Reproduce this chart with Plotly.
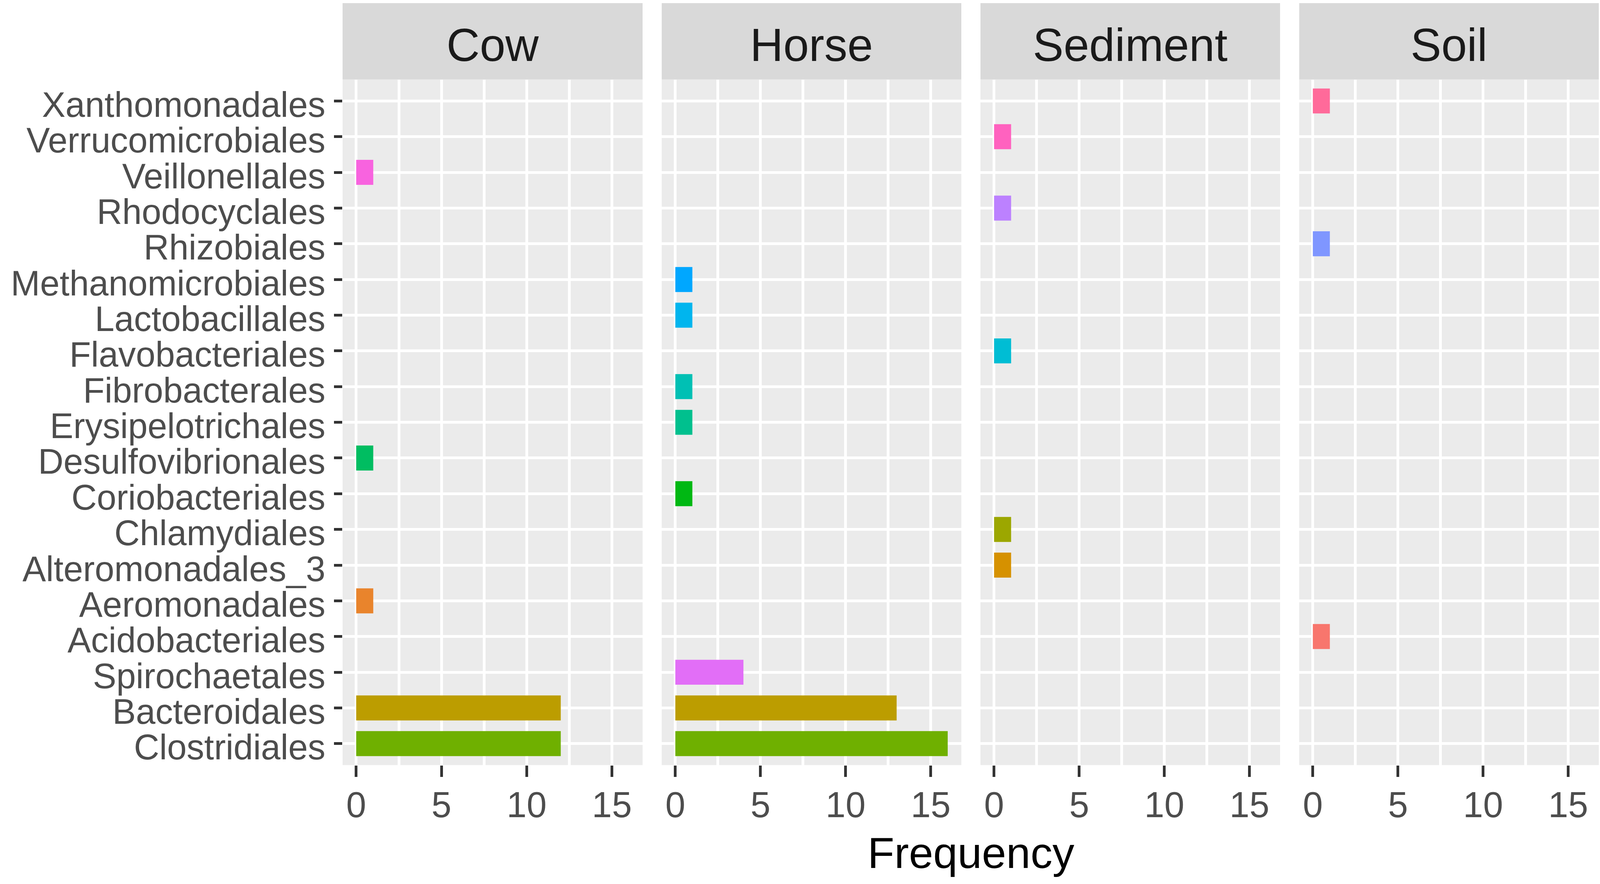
import math
import plotly.graph_objects as go

# ---------------- data ----------------
order_levels = [  # bottom -> top on the y axis
    "Clostridiales", "Bacteroidales", "Spirochaetales", "Acidobacteriales",
    "Aeromonadales", "Alteromonadales_3", "Chlamydiales", "Coriobacteriales",
    "Desulfovibrionales", "Erysipelotrichales", "Fibrobacterales",
    "Flavobacteriales", "Lactobacillales", "Methanomicrobiales", "Rhizobiales",
    "Rhodocyclales", "Veillonellales", "Verrucomicrobiales", "Xanthomonadales",
]
fill_levels = [  # order used for the fill colour scale
    "Acidobacteriales", "Aeromonadales", "Alteromonadales_3", "Bacteroidales",
    "Chlamydiales", "Clostridiales", "Coriobacteriales", "Desulfovibrionales",
    "Erysipelotrichales", "Fibrobacterales", "Flavobacteriales",
    "Lactobacillales", "Methanomicrobiales", "Rhizobiales", "Rhodocyclales",
    "Spirochaetales", "Veillonellales", "Verrucomicrobiales", "Xanthomonadales",
]
facets = ["Cow", "Horse", "Sediment", "Soil"]

cow_orders = ["Veillonellales", "Desulfovibrionales", "Aeromonadales", "Bacteroidales", "Clostridiales"]
cow_freq = [1, 1, 1, 12, 12]
horse_orders = ["Methanomicrobiales", "Lactobacillales", "Fibrobacterales", "Erysipelotrichales",
                "Coriobacteriales", "Spirochaetales", "Bacteroidales", "Clostridiales"]
horse_freq = [1, 1, 1, 1, 1, 4, 13, 16]
sediment_orders = ["Verrucomicrobiales", "Rhodocyclales", "Flavobacteriales", "Chlamydiales", "Alteromonadales_3"]
sediment_freq = [1, 1, 1, 1, 1]
soil_orders = ["Xanthomonadales", "Rhizobiales", "Acidobacteriales"]
soil_freq = [1, 1, 1]

x_ticks = [0, 5, 10, 15]
x_minor = [2.5, 7.5, 12.5]
x_title = "Frequency"


# ---------------- style helpers ----------------
def hcl_hex(h, c=100.0, l=65.0):
    # R's hcl() (polar CIE-Luv, D65) -> sRGB hex
    Xn, Yn, Zn = 95.047, 100.0, 108.883
    hr = math.radians(h)
    U, V = c * math.cos(hr), c * math.sin(hr)
    Y = Yn * ((l + 16) / 116) ** 3 if l > 7.999592 else Yn * l / 903.3
    t = Xn + Yn + Zn
    x, y = Xn / t, Yn / t
    un = 2 * x / (6 * y - x + 1.5)
    vn = 4.5 * y / (6 * y - x + 1.5)
    u = U / (13 * l) + un
    v = V / (13 * l) + vn
    X = 9.0 * Y * u / (4 * v)
    Z = -X / 3 - 5 * Y + 3 * Y / v
    X, Y, Z = X / 100, Y / 100, Z / 100

    def g(t):
        return 1.055 * t ** (1 / 2.4) - 0.055 if t > 0.00304 else 12.92 * t

    r = g(3.240479 * X - 1.537150 * Y - 0.498535 * Z)
    gg = g(-0.969256 * X + 1.875992 * Y + 0.041556 * Z)
    b = g(0.055648 * X - 0.204043 * Y + 1.057311 * Z)
    vals = [max(0, min(255, round(255 * k))) for k in (r, gg, b)]
    return "#%02X%02X%02X" % tuple(vals)


n = len(fill_levels)
palette = {lvl: hcl_hex(15 + 360 * i / n) for i, lvl in enumerate(fill_levels)}

FONT = "Liberation Sans, Arial, sans-serif"
W, H = 4101, 2262
panel_x = [(877, 1645), (1694, 2461), (2510, 3277), (3326, 4093)]
panel_top, panel_bottom, strip_top = 204, 1962, 8
py = lambda v: 1 - v / H

facet_data = [(cow_orders, cow_freq), (horse_orders, horse_freq),
              (sediment_orders, sediment_freq), (soil_orders, soil_freq)]

fig = go.Figure()
for i, (ords, freq) in enumerate(facet_data):
    sfx = "" if i == 0 else str(i + 1)
    fig.add_trace(go.Bar(
        x=freq, y=ords, orientation="h", width=0.7,
        marker=dict(color=[palette[o] for o in ords], line=dict(width=0)),
        xaxis="x" + sfx, yaxis="y" + sfx, showlegend=False,
    ))
    x0, x1 = panel_x[i]
    fig.layout["xaxis" + sfx] = dict(
        domain=[x0 / W, x1 / W], anchor="y" + sfx, range=[-0.8, 16.8],
        tickmode="array", tickvals=x_ticks, ticktext=[str(t) for t in x_ticks],
        ticks="outside", ticklen=29, tickwidth=7, tickcolor="#333333",
        ticklabelstandoff=-7,
        tickfont=dict(family=FONT, size=92, color="#4D4D4D"),
        showgrid=True, gridcolor="#FFFFFF", gridwidth=7,
        minor=dict(tickvals=x_minor, showgrid=True, gridcolor="#FFFFFF", gridwidth=7, ticks=""),
        zeroline=False, showline=False, fixedrange=True,
    )
    fig.layout["yaxis" + sfx] = dict(
        domain=[py(panel_bottom), py(panel_top)], anchor="x" + sfx,
        type="category", categoryorder="array", categoryarray=order_levels,
        tickmode="array", tickvals=order_levels, ticktext=order_levels,
        range=[-0.6, len(order_levels) - 0.4],
        ticks="outside" if i == 0 else "", ticklen=21, tickwidth=7, tickcolor="#333333",
        ticklabelstandoff=4, ticklabelshift=9,
        showticklabels=(i == 0),
        tickfont=dict(family=FONT, size=90, color="#4D4D4D"),
        showgrid=True, gridcolor="#FFFFFF", gridwidth=7,
        zeroline=False, showline=False, fixedrange=True,
    )
    # strip
    fig.add_shape(type="rect", xref="paper", yref="paper",
                  x0=x0 / W, x1=x1 / W, y0=py(panel_top), y1=py(strip_top),
                  fillcolor="#D9D9D9", line=dict(width=0), layer="below")
    fig.add_annotation(text=facets[i], xref="paper", yref="paper",
                       x=(x0 + x1) / 2 / W, y=py((strip_top + panel_top) / 2 + 9),
                       xanchor="center", yanchor="middle", showarrow=False,
                       font=dict(family=FONT, size=118, color="#1A1A1A"))

fig.add_annotation(text=x_title, xref="paper", yref="paper",
                   x=(panel_x[0][0] + panel_x[-1][1]) / 2 / W, y=py(2187),
                   xanchor="center", yanchor="middle", showarrow=False,
                   font=dict(family=FONT, size=112, color="#000000"))

fig.update_layout(
    width=W, height=H, margin=dict(l=0, r=0, t=0, b=0),
    paper_bgcolor="#FFFFFF", plot_bgcolor="#EBEBEB",
    bargap=0.3, showlegend=False,
)
fig.write_html("out.html", config={"displayModeBar": False, "staticPlot": True},
               post_script="document.body.style.margin='0';document.body.style.overflow='hidden';")
